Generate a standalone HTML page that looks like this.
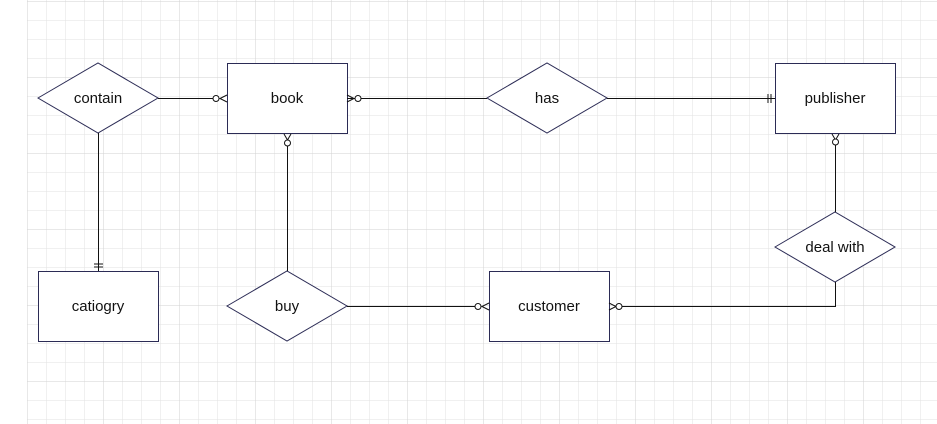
<!DOCTYPE html>
<html><head><meta charset="utf-8"><style>
html,body{margin:0;padding:0;background:#fff;width:937px;height:424px;overflow:hidden}
svg text{font-family:"Liberation Sans",Arial,sans-serif;font-size:15px;fill:#111}
</style></head><body>
<svg width="937" height="424" xmlns="http://www.w3.org/2000/svg">
<defs>
<pattern id="g" x="27" y="1" width="19" height="19" patternUnits="userSpaceOnUse">
<path d="M0 0H19M0 0V19" stroke="#e2e2e2" stroke-width="1" fill="none"/>
</pattern>
<pattern id="G" x="27" y="1" width="76" height="76" patternUnits="userSpaceOnUse">
<path d="M0 0H76M0 0V76" stroke="#d2d2d2" stroke-width="1" fill="none"/>
</pattern>
</defs>
<rect x="27" y="0" width="910" height="424" fill="url(#g)"/>
<rect x="27" y="0" width="910" height="424" fill="url(#G)"/>
<g fill="#fff" stroke="#2b2b55" stroke-width="1">
<polygon points="38,98 98,63 158,98 98,133"/>
<polygon points="487,98 547,63 607,98 547,133"/>
<polygon points="227,306 287,271 347,306 287,341"/>
<polygon points="775,247 835,212 895,247 835,282"/>
<rect x="227.5" y="63.5" width="120" height="70"/>
<rect x="775.5" y="63.5" width="120" height="70"/>
<rect x="38.5" y="271.5" width="120" height="70"/>
<rect x="489.5" y="271.5" width="120" height="70"/>
</g>
<g stroke="#111" stroke-width="1" fill="none">
<path d="M158 98.5H219M347 98.5H487M607 98.5H775M98.5 133V271M287.5 142V271M347 306.5H481M835.5 282V306.5H617M835.5 142V212"/>
<path d="M227 95L220 98.5L227 102"/><circle cx="216" cy="98.5" r="3" fill="#fff"/>
<path d="M347 95L354 98.5L347 102"/><circle cx="358" cy="98.5" r="3" fill="#fff"/>
<path d="M768 94V103M771 94V103"/>
<path d="M94 264H103M94 267H103"/>
<path d="M284 134L287.5 140L291 134"/><circle cx="287.5" cy="143" r="3" fill="#fff"/>
<path d="M489 303L482 306.5L489 310"/><circle cx="478" cy="306.5" r="3" fill="#fff"/>
<path d="M609 303L616 306.5L609 310"/><circle cx="619" cy="306.5" r="3" fill="#fff"/>
<path d="M832 134L835.5 140L839 134"/><circle cx="835.5" cy="142" r="3" fill="#fff"/>
</g>
<g text-anchor="middle">
<text x="98" y="103">contain</text>
<text x="287" y="103">book</text>
<text x="547" y="103">has</text>
<text x="835" y="103">publisher</text>
<text x="98" y="311">catiogry</text>
<text x="287" y="311">buy</text>
<text x="549" y="311">customer</text>
<text x="835" y="252">deal with</text>
</g>
</svg>
</body></html>
